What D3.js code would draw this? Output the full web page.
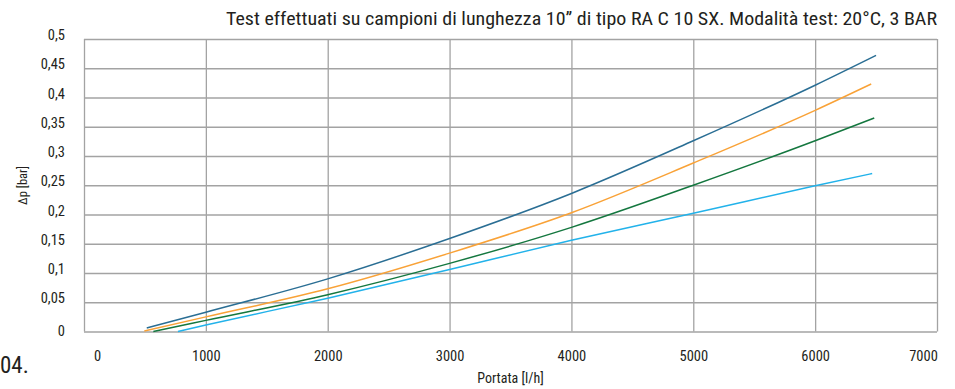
<!DOCTYPE html>
<html>
<head>
<meta charset="utf-8">
<script src="https://cdn.jsdelivr.net/npm/d3@7"></script>
<style>
  html, body { margin: 0; padding: 0; background: #fff; }
  svg { display: block; }
  text { font-family: "Liberation Sans Narrow", "Arial Narrow", "Roboto Condensed", "Liberation Sans", sans-serif; fill: #231f20; }
</style>
</head>
<body>
<script>
// Flow rate [l/h] and pressure drop [bar] for each curve
const flowBlue  = [515, 1000, 2000, 3000, 4000, 5000, 6000, 6500];
const dpBlue    = [0.006, 0.033, 0.090, 0.159, 0.236, 0.326, 0.421, 0.472];
const flowOrange = [495, 1000, 2000, 3000, 4000, 5000, 6000, 6460];
const dpOrange   = [0.001, 0.025, 0.073, 0.134, 0.203, 0.288, 0.378, 0.423];
const flowGreen = [569, 1000, 2000, 3000, 4000, 5000, 6000, 6485];
const dpGreen   = [0.000, 0.019, 0.063, 0.1165, 0.178, 0.250, 0.326, 0.365];
const flowCyan  = [771, 1000, 2000, 3000, 4000, 5000, 6000, 6468];
const dpCyan    = [0.000, 0.011, 0.057, 0.106, 0.156, 0.202, 0.249, 0.270];

const xTicks = [0, 1000, 2000, 3000, 4000, 5000, 6000, 7000];
const yTicks = [0, 0.05, 0.1, 0.15, 0.2, 0.25, 0.3, 0.35, 0.4, 0.45, 0.5];

const titleText = "Test effettuati su campioni di lunghezza 10\u201D di tipo RA C 10 SX. Modalit\u00E0 test: 20\u00B0C, 3 BAR";
const xLabel = "Portata [l/h]";
const yLabel = "\u0394p [bar]";
const figNumber = "04.";

const series = [
  { flow: flowBlue,   dp: dpBlue,   color: "#2a6e94" },
  { flow: flowOrange, dp: dpOrange, color: "#f9a237" },
  { flow: flowGreen,  dp: dpGreen,  color: "#14773f" },
  { flow: flowCyan,   dp: dpCyan,   color: "#22b2ea" }
];

const W = 955, H = 389;
const plotL = 84, plotR = 937, plotT = 39, plotB = 331.5;

const svg = d3.select("body").append("svg").attr("width", W).attr("height", H);

const x = d3.scaleLinear().domain([0, 7000]).range([plotL, plotR]);
const y = d3.scaleLinear().domain([0, 0.5]).range([plotB, plotT]);

const gridColor = "#a3a3a3";

// vertical grid
svg.append("g")
  .attr("transform", `translate(0,${plotB})`)
  .call(d3.axisBottom(x).tickValues(xTicks).tickSize(-(plotB - plotT)).tickFormat(""))
  .call(g => g.select(".domain").remove())
  .call(g => g.selectAll("line").attr("stroke", gridColor).attr("stroke-width", 1.3));

// horizontal grid
svg.append("g")
  .attr("transform", `translate(${plotL},0)`)
  .call(d3.axisLeft(y).tickValues(yTicks).tickSize(-(plotR - plotL)).tickFormat(""))
  .call(g => g.select(".domain").remove())
  .call(g => g.selectAll("line").attr("stroke", gridColor).attr("stroke-width", 1.3));

// x tick labels
const fmtX = d3.format("d");
const xAx = svg.append("g")
  .attr("transform", `translate(0,${plotB})`)
  .call(d3.axisBottom(x).tickValues(xTicks).tickSize(0).tickPadding(0).tickFormat(fmtX));
xAx.select(".domain").remove();
xAx.attr("font-family", null).attr("font-size", null);
xAx.selectAll("text")
  .attr("y", 29.5).attr("dy", 0)
  .style("font-size", "14.5px")
  .attr("fill", "#231f20");
xAx.selectAll(".tick").filter(d => d === 0).select("text").attr("dx", 13);
xAx.selectAll(".tick").filter(d => d === 7000).select("text").attr("dx", -14);

// y tick labels
const fmtY = v => d3.format("~g")(v).replace(".", ",");
const yAx = svg.append("g")
  .attr("transform", `translate(${plotL},0)`)
  .call(d3.axisLeft(y).tickValues(yTicks).tickSize(0).tickPadding(19).tickFormat(fmtY));
yAx.select(".domain").remove();
yAx.attr("font-family", null).attr("font-size", null);
yAx.selectAll("text")
  .attr("dy", "0.32em")
  .attr("y", -4)
  .style("font-size", "14.5px")
  .attr("fill", "#231f20");
yAx.selectAll(".tick").filter(d => d === 0).select("text").attr("y", -1);

// curves
const line = d3.line()
  .x(d => x(d[0]))
  .y(d => y(d[1]))
  .curve(d3.curveMonotoneX);

svg.append("g").selectAll("path")
  .data(series)
  .join("path")
  .attr("d", s => line(s.flow.map((f, i) => [f, s.dp[i]])))
  .attr("fill", "none")
  .attr("stroke", s => s.color)
  .attr("stroke-width", 1.5);

// title
svg.append("text")
  .attr("x", plotR).attr("y", 25)
  .attr("text-anchor", "end")
  .attr("textLength", 711)
  .attr("lengthAdjust", "spacingAndGlyphs")
  .style("font-size", "19px")
  .text(titleText);

// axis titles
svg.append("text")
  .attr("x", 510.5).attr("y", 383)
  .attr("text-anchor", "middle")
  .style("font-size", "14px")
  .text(xLabel);

svg.append("text")
  .attr("transform", "translate(27,185.5) rotate(-90)")
  .attr("text-anchor", "middle")
  .style("font-size", "12.5px")
  .text(yLabel);

// figure number
svg.append("text")
  .attr("x", 0).attr("y", 373)
  .style("font-size", "23px")
  .text(figNumber);
</script>
</body>
</html>
